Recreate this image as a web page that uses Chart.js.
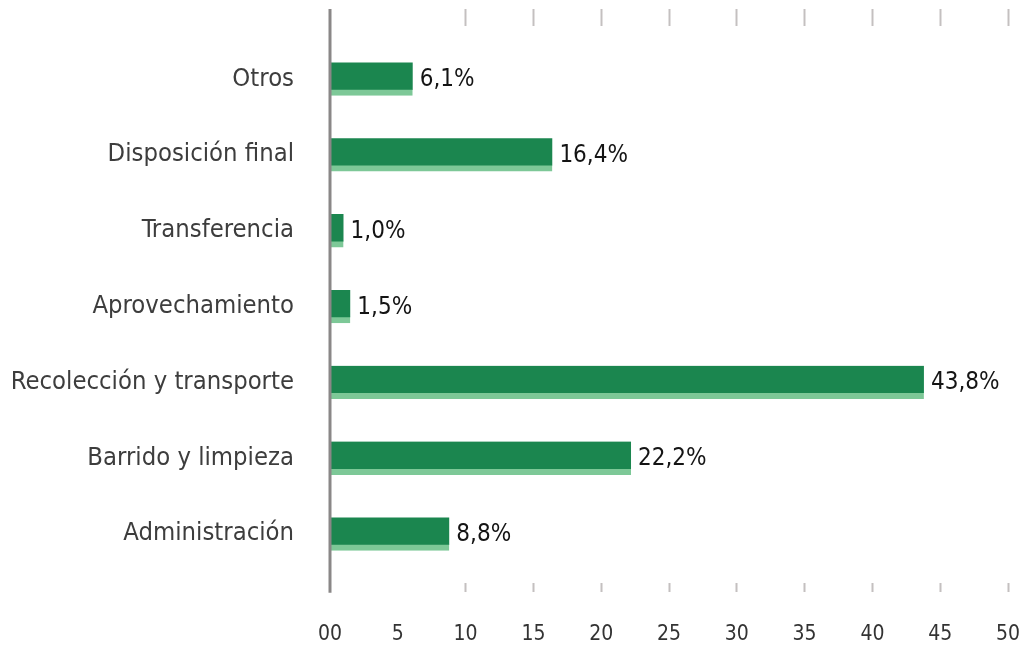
<!DOCTYPE html>
<html>
<head>
<meta charset="utf-8">
<script src="https://cdn.jsdelivr.net/npm/chart.js@4/dist/chart.umd.min.js"></script>
<style>
  body { margin: 0; background: #fff; }
  #wrap { width: 1023px; height: 647px; }
</style>
</head>
<body>
<div id="wrap"><canvas id="myChart" width="1023" height="647"></canvas></div>
<script>
var categorias = ["Otros", "Disposición final", "Transferencia", "Aprovechamiento",
                  "Recolección y transporte", "Barrido y limpieza", "Administración"];
var porcentajes = [6.1, 16.4, 1.0, 1.5, 43.8, 22.2, 8.8];
var ejeMin = 0;
var ejeMax = 50;
var ejePaso = 5;

var verdeOscuro = '#1b864f';
var verdeClaro = '#7dc897';

// etiquetas de valor al final de cada barra
var etiquetas = {
    id: 'etiquetas',
    afterDatasetsDraw: function(chart) {
        var ctx = chart.ctx;
        var meta = chart.getDatasetMeta(0);
        ctx.save();
        ctx.font = '24px "DejaVu Sans Condensed", "DejaVu Sans"';
        ctx.fillStyle = '#141414';
        ctx.textBaseline = 'middle';
        ctx.textAlign = 'left';
        meta.data.forEach(function(bar, i) {
            var txt = porcentajes[i].toFixed(1).replace('.', ',') + '%';
            ctx.fillText(txt, bar.x + 7, bar.y + 1);
        });
        ctx.restore();
    }
};

// linea vertical del eje en el cero, de arriba a abajo
var lineaEje = {
    id: 'lineaEje',
    afterDraw: function(chart) {
        var ctx = chart.ctx;
        var x = chart.scales.x.getPixelForValue(0);
        ctx.save();
        ctx.strokeStyle = '#8a8787';
        ctx.lineWidth = 3;
        ctx.beginPath();
        ctx.moveTo(x, chart.scales.x2.top);
        ctx.lineTo(x, chart.scales.x.top + 21);
        ctx.stroke();
        ctx.restore();
    }
};

function colorTick(c) {
    return c.tick && c.tick.value <= 5 ? 'rgba(0,0,0,0)' : '#c4c0c0';
}

var ctx = document.getElementById('myChart').getContext('2d');
var chart = new Chart(ctx, {
    type: 'bar',
    data: {
        labels: categorias,
        datasets: [{
            data: porcentajes,
            xAxisID: 'x',
            backgroundColor: verdeOscuro,
            borderColor: verdeClaro,
            borderWidth: { top: 0, right: 0, bottom: 6, left: 0 },
            borderSkipped: false,
            barThickness: 33
        }]
    },
    options: {
        indexAxis: 'y',
        responsive: false,
        animation: false,
        layout: { padding: { top: 9, right: 15, bottom: 0, left: 0 } },
        plugins: {
            legend: { display: false },
            tooltip: { enabled: false }
        },
        scales: {
            x: {
                position: 'bottom',
                min: ejeMin,
                max: ejeMax,
                ticks: {
                    stepSize: ejePaso,
                    padding: 0,
                    color: '#333333',
                    font: { family: '"DejaVu Sans Condensed", "DejaVu Sans"', size: 21 },
                    callback: function(v) { return v === 0 ? '00' : v; }
                },
                grid: {
                    drawOnChartArea: false,
                    tickLength: 50,
                    tickWidth: 2,
                    tickColor: colorTick,
                    tickBorderDash: [0, 11, 9, 1000]
                },
                border: { display: false }
            },
            x2: {
                position: 'top',
                min: ejeMin,
                max: ejeMax,
                ticks: { display: false, stepSize: ejePaso },
                grid: {
                    drawOnChartArea: false,
                    tickLength: 32,
                    tickWidth: 2,
                    tickColor: colorTick,
                    tickBorderDash: [17, 1000]
                },
                border: { display: false }
            },
            y: {
                grid: { display: false, drawTicks: true, tickLength: 36, tickColor: 'rgba(0,0,0,0)' },
                border: { display: false },
                ticks: {
                    padding: 0,
                    color: '#3d3d3d',
                    font: { family: '"DejaVu Sans Condensed", "DejaVu Sans"', size: 25.4 }
                },
                afterFit: function(scale) { scale.width = 330; }
            }
        }
    },
    plugins: [etiquetas, lineaEje]
});
</script>
</body>
</html>
